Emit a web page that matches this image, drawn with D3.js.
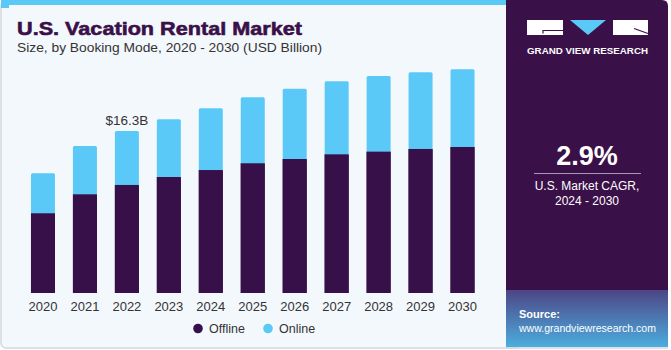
<!DOCTYPE html>
<html><head><meta charset="utf-8">
<script src="https://cdn.jsdelivr.net/npm/d3@7"></script>
<style>
html,body{margin:0;padding:0;background:#fff;}
svg{display:block;}
</style></head>
<body>
<svg id="c" width="671" height="350"></svg>
<script>
const years = ["2020","2021","2022","2023","2024","2025","2026","2027","2028","2029","2030"];
const offline = [8.02, 9.93, 10.87, 11.67, 12.37, 13.05, 13.48, 13.95, 14.22, 14.49, 14.69];
const online  = [4.02, 4.86, 5.43, 5.80, 6.21, 6.64, 7.07, 7.35, 7.61, 7.71, 7.82];
const seriesNames = ["Offline", "Online"];
const seriesColors = ["#37104A", "#5BC9F7"];
const annotationYear = "2022";
const annotationText = "$16.3B";
const cagrValue = "2.9%";
const cagrLines = ["U.S. Market CAGR,", "2024 - 2030"];

const svg = d3.select("#c");
const defs = svg.append("defs");
const g1 = defs.append("linearGradient").attr("id","srcg").attr("x1",0).attr("y1",0).attr("x2",0).attr("y2",1);
g1.append("stop").attr("offset","0%").attr("stop-color","#4D4585");
g1.append("stop").attr("offset","100%").attr("stop-color","#4CADDF");

// left panel
svg.append("rect").attr("x",1).attr("y",1).attr("width",520).attr("height",347).attr("rx",5)
  .attr("fill","#F3F8FC").attr("stroke","#D4D7DA").attr("stroke-width",1.5);
svg.append("rect").attr("x",1).attr("y",0).attr("width",506).attr("height",5).attr("fill","#5BC9F7");
svg.append("rect").attr("x",1).attr("y",0).attr("width",8).attr("height",8).attr("fill","#5BC9F7");

// right panel
svg.append("path").attr("d","M506,0 H662 Q668,0 668,6 V290 H506 Z").attr("fill","#3A1048");
svg.append("rect").attr("x",506).attr("y",290).attr("width",162).attr("height",57).attr("fill","url(#srcg)");
svg.append("line").attr("x1",506).attr("x2",668).attr("y1",348).attr("y2",348).attr("stroke","#D4D7DA").attr("stroke-width",1.5);

// logo
const lg = svg.append("g");
lg.append("rect").attr("x",527).attr("y",20).attr("width",36).attr("height",15).attr("fill","#fff");
lg.append("path").attr("d","M543,33.5 V30.5 H563").attr("fill","none").attr("stroke","#3A1048").attr("stroke-width",1.2);
lg.append("path").attr("d","M570,20 H606 L588,35 Z").attr("fill","#5BC9F7");
lg.append("rect").attr("x",613).attr("y",20).attr("width",35).attr("height",15).attr("fill","#fff");
lg.append("path").attr("d","M634,28.5 L648,33.5").attr("fill","none").attr("stroke","#3A1048").attr("stroke-width",1.2);
svg.append("text").attr("x",587.5).attr("y",54).attr("text-anchor","middle")
  .attr("font-family","Liberation Sans, Arial, sans-serif").attr("font-weight","bold").attr("font-size",9.5)
  .attr("fill","#fff").attr("textLength",121).attr("lengthAdjust","spacingAndGlyphs").text("GRAND VIEW RESEARCH");

// CAGR
svg.append("text").attr("x",587).attr("y",165).attr("text-anchor","middle")
  .attr("font-family","Liberation Sans, Arial, sans-serif").attr("font-weight","bold").attr("font-size",27)
  .attr("fill","#fff").text(cagrValue);
svg.append("line").attr("x1",534).attr("x2",641).attr("y1",173.5).attr("y2",173.5).attr("stroke","#A897B5").attr("stroke-width",1.2);
cagrLines.forEach((t,i)=>{
  svg.append("text").attr("x",587).attr("y",190+i*14.5).attr("text-anchor","middle")
    .attr("font-family","Liberation Sans, Arial, sans-serif").attr("font-size",12).attr("fill","#fff").text(t);
});
svg.append("text").attr("x",519).attr("y",318).attr("font-family","Liberation Sans, Arial, sans-serif")
  .attr("font-weight","bold").attr("font-size",11).attr("fill","#fff").text("Source:");
svg.append("text").attr("x",519).attr("y",332).attr("font-family","Liberation Sans, Arial, sans-serif")
  .attr("font-size",11).attr("fill","#fff").attr("textLength",137).attr("lengthAdjust","spacingAndGlyphs").text("www.grandviewresearch.com");

// titles
svg.append("text").attr("x",17).attr("y",34.5).attr("font-family","Liberation Sans, Arial, sans-serif")
  .attr("font-weight","900").attr("font-size",19).attr("fill","#3A1048")
  .attr("stroke","#3A1048").attr("stroke-width",0.6)
  .attr("textLength",285).attr("lengthAdjust","spacingAndGlyphs").text("U.S. Vacation Rental Market");
svg.append("text").attr("x",17).attr("y",52).attr("font-family","Liberation Sans, Arial, sans-serif")
  .attr("font-size",13.5).attr("fill","#333")
  .attr("textLength",305).attr("lengthAdjust","spacingAndGlyphs").text("Size, by Booking Mode, 2020 - 2030 (USD Billion)");

// scales
const x = d3.scaleBand().domain(years).range([22, 483.5]).paddingInner(0.428).paddingOuter(0.214);
const y = d3.scaleLinear().domain([0, 25]).range([293, 293 - 25*9.94]);

const data = years.map((yr,i)=>({year:yr, Offline:offline[i], Online:online[i]}));
const stack = d3.stack().keys(seriesNames)(data);

const bars = svg.append("g");
stack.forEach((s,si)=>{
  bars.selectAll(null).data(s).enter().append("rect")
    .attr("x", d=>x(d.data.year))
    .attr("width", x.bandwidth())
    .attr("y", d=>y(d[1]))
    .attr("height", d=>y(d[0]) - y(d[1]) + (si===1?1.5:0))
    .attr("rx", si===1?1.5:0)
    .attr("fill", seriesColors[si]);
});
// redraw offline over online to cover rounded bottom
bars.selectAll(null).data(stack[0]).enter().append("rect")
  .attr("x", d=>x(d.data.year)).attr("width", x.bandwidth())
  .attr("y", d=>y(d[1])).attr("height", d=>y(d[0]) - y(d[1]))
  .attr("fill", seriesColors[0]);

// axis
const ax = svg.append("g").attr("transform","translate(0,293)")
  .call(d3.axisBottom(x).tickSize(0).tickPadding(9));
ax.select(".domain").remove();
ax.selectAll("text").attr("font-family","Liberation Sans, Arial, sans-serif").attr("font-size",13).attr("fill","#333");

// annotation
const ai = years.indexOf(annotationYear);
svg.append("text").attr("x", x(annotationYear)+x.bandwidth()/2).attr("y", y(offline[ai]+online[ai]) - 6)
  .attr("text-anchor","middle").attr("font-family","Liberation Sans, Arial, sans-serif")
  .attr("font-size",13.5).attr("fill","#333").text(annotationText);

// legend
const leg = svg.append("g");
const lx = [198, 268];
seriesNames.forEach((n,i)=>{
  leg.append("circle").attr("cx",lx[i]).attr("cy",328.5).attr("r",4.8).attr("fill",seriesColors[i]);
  leg.append("text").attr("x",lx[i]+11).attr("y",333).attr("font-family","Liberation Sans, Arial, sans-serif")
    .attr("font-size",12.5).attr("fill","#333").text(n);
});
</script>
</body></html>
